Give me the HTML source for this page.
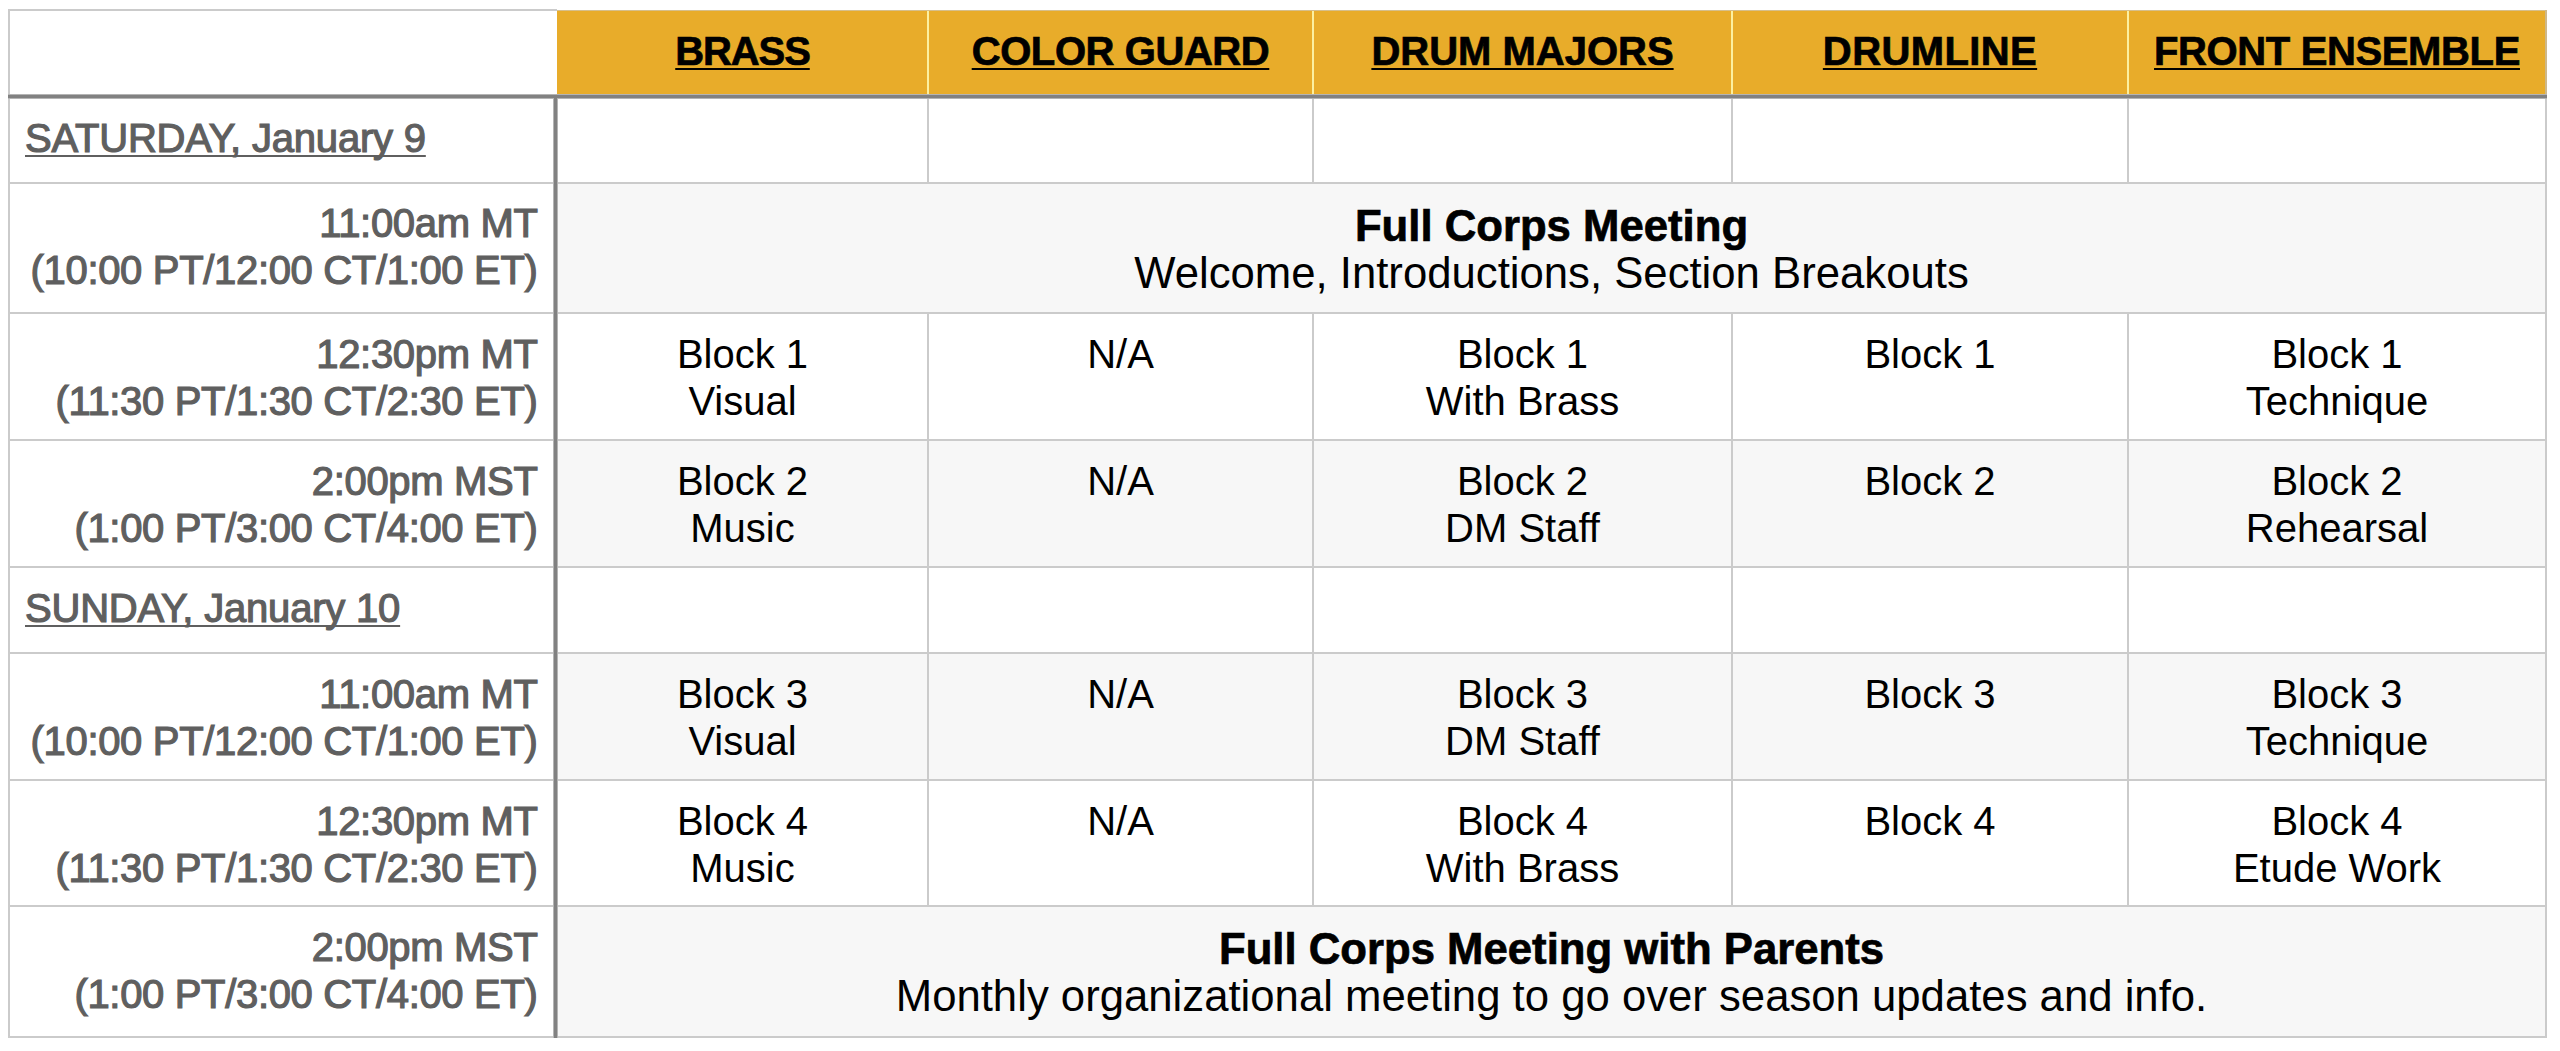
<!DOCTYPE html>
<html><head><meta charset="utf-8"><style>
html,body{margin:0;padding:0;background:#fff;}
body{width:2560px;height:1051px;position:relative;overflow:hidden;font-family:"Liberation Sans",sans-serif;}
div{position:absolute;}
.t{line-height:47px;white-space:nowrap;}
.g{-webkit-text-stroke:1.2px #5f5f5f;}
.tm{letter-spacing:-0.33px;}
b,.hb{-webkit-text-stroke:0.7px #000;}
</style></head><body>
<div style="left:557px;top:11px;width:1989px;height:84px;background:#e8ac2a"></div><div style="left:557px;top:183px;width:1989px;height:130px;background:#f7f7f7"></div><div style="left:557px;top:440px;width:1989px;height:127px;background:#f7f7f7"></div><div style="left:557px;top:653px;width:1989px;height:127px;background:#f7f7f7"></div><div style="left:557px;top:906px;width:1989px;height:131px;background:#f7f7f7"></div><div style="left:8px;top:9px;width:549px;height:2px;background:#cbcbcb"></div><div style="left:557px;top:10px;width:1990px;height:1px;background:#d6bf8c"></div><div style="left:8px;top:9px;width:2px;height:1029px;background:#cbcbcb"></div><div style="left:2545px;top:96px;width:2px;height:942px;background:#cbcbcb"></div><div style="left:2545px;top:10px;width:2px;height:85px;background:#cdb88a"></div><div style="left:8px;top:1036px;width:2539px;height:2px;background:#cbcbcb"></div><div style="left:8px;top:182px;width:2539px;height:2px;background:#cbcbcb"></div><div style="left:8px;top:312px;width:2539px;height:2px;background:#cbcbcb"></div><div style="left:8px;top:439px;width:2539px;height:2px;background:#cbcbcb"></div><div style="left:8px;top:566px;width:2539px;height:2px;background:#cbcbcb"></div><div style="left:8px;top:652px;width:2539px;height:2px;background:#cbcbcb"></div><div style="left:8px;top:779px;width:2539px;height:2px;background:#cbcbcb"></div><div style="left:8px;top:905px;width:2539px;height:2px;background:#cbcbcb"></div><div style="left:927px;top:96px;width:2px;height:87px;background:#cbcbcb"></div><div style="left:927px;top:313px;width:2px;height:127px;background:#cbcbcb"></div><div style="left:927px;top:440px;width:2px;height:127px;background:#cbcbcb"></div><div style="left:927px;top:567px;width:2px;height:86px;background:#cbcbcb"></div><div style="left:927px;top:653px;width:2px;height:127px;background:#cbcbcb"></div><div style="left:927px;top:780px;width:2px;height:126px;background:#cbcbcb"></div><div style="left:927px;top:11px;width:2px;height:84px;background:#fcf0a0"></div><div style="left:1312px;top:96px;width:2px;height:87px;background:#cbcbcb"></div><div style="left:1312px;top:313px;width:2px;height:127px;background:#cbcbcb"></div><div style="left:1312px;top:440px;width:2px;height:127px;background:#cbcbcb"></div><div style="left:1312px;top:567px;width:2px;height:86px;background:#cbcbcb"></div><div style="left:1312px;top:653px;width:2px;height:127px;background:#cbcbcb"></div><div style="left:1312px;top:780px;width:2px;height:126px;background:#cbcbcb"></div><div style="left:1312px;top:11px;width:2px;height:84px;background:#fcf0a0"></div><div style="left:1731px;top:96px;width:2px;height:87px;background:#cbcbcb"></div><div style="left:1731px;top:313px;width:2px;height:127px;background:#cbcbcb"></div><div style="left:1731px;top:440px;width:2px;height:127px;background:#cbcbcb"></div><div style="left:1731px;top:567px;width:2px;height:86px;background:#cbcbcb"></div><div style="left:1731px;top:653px;width:2px;height:127px;background:#cbcbcb"></div><div style="left:1731px;top:780px;width:2px;height:126px;background:#cbcbcb"></div><div style="left:1731px;top:11px;width:2px;height:84px;background:#fcf0a0"></div><div style="left:2127px;top:96px;width:2px;height:87px;background:#cbcbcb"></div><div style="left:2127px;top:313px;width:2px;height:127px;background:#cbcbcb"></div><div style="left:2127px;top:440px;width:2px;height:127px;background:#cbcbcb"></div><div style="left:2127px;top:567px;width:2px;height:86px;background:#cbcbcb"></div><div style="left:2127px;top:653px;width:2px;height:127px;background:#cbcbcb"></div><div style="left:2127px;top:780px;width:2px;height:126px;background:#cbcbcb"></div><div style="left:2127px;top:11px;width:2px;height:84px;background:#fcf0a0"></div><div style="left:8px;top:94px;width:2539px;height:5px;background:#b4b4b4"></div><div style="left:8px;top:95px;width:2539px;height:3px;background:#818181"></div><div style="left:553px;top:99px;width:5px;height:939px;background:#b4b4b4"></div><div style="left:554px;top:98px;width:3px;height:940px;background:#818181"></div>
<div class="t hb" style="left:557px;width:371px;top:28px;font-size:40px;font-weight:700;color:#000;text-align:center;text-decoration:underline;text-decoration-thickness:2px;text-underline-offset:3px;text-decoration-skip-ink:none;letter-spacing:-1.1px;">BRASS</div><div class="t hb" style="left:928px;width:385px;top:28px;font-size:40px;font-weight:700;color:#000;text-align:center;text-decoration:underline;text-decoration-thickness:2px;text-underline-offset:3px;text-decoration-skip-ink:none;letter-spacing:-0.42px;">COLOR GUARD</div><div class="t hb" style="left:1313px;width:419px;top:28px;font-size:40px;font-weight:700;color:#000;text-align:center;text-decoration:underline;text-decoration-thickness:2px;text-underline-offset:3px;text-decoration-skip-ink:none;letter-spacing:0px;">DRUM MAJORS</div><div class="t hb" style="left:1732px;width:396px;top:28px;font-size:40px;font-weight:700;color:#000;text-align:center;text-decoration:underline;text-decoration-thickness:2px;text-underline-offset:3px;text-decoration-skip-ink:none;letter-spacing:0.4px;">DRUMLINE</div><div class="t hb" style="left:2128px;width:418px;top:28px;font-size:40px;font-weight:700;color:#000;text-align:center;text-decoration:underline;text-decoration-thickness:2px;text-underline-offset:3px;text-decoration-skip-ink:none;letter-spacing:-0.37px;">FRONT ENSEMBLE</div><div class="t g" style="left:25px;width:529px;top:115px;font-size:40px;font-weight:400;color:#5f5f5f;text-align:left;text-decoration:underline;text-decoration-thickness:2px;text-underline-offset:3px;text-decoration-skip-ink:none;letter-spacing:-0.2px;">SATURDAY, January 9</div><div class="t g" style="left:25px;width:529px;top:585px;font-size:40px;font-weight:400;color:#5f5f5f;text-align:left;text-decoration:underline;text-decoration-thickness:2px;text-underline-offset:3px;text-decoration-skip-ink:none;letter-spacing:-0.2px;">SUNDAY, January 10</div><div class="t g tm" style="left:10px;width:527.5px;top:200px;font-size:40px;font-weight:400;color:#5f5f5f;text-align:right;">11:00am MT<br>(10:00 PT/12:00 CT/1:00 ET)</div><div class="t g tm" style="left:10px;width:527.5px;top:331px;font-size:40px;font-weight:400;color:#5f5f5f;text-align:right;">12:30pm MT<br>(11:30 PT/1:30 CT/2:30 ET)</div><div class="t g tm" style="left:10px;width:527.5px;top:458px;font-size:40px;font-weight:400;color:#5f5f5f;text-align:right;">2:00pm MST<br>(1:00 PT/3:00 CT/4:00 ET)</div><div class="t g tm" style="left:10px;width:527.5px;top:671px;font-size:40px;font-weight:400;color:#5f5f5f;text-align:right;">11:00am MT<br>(10:00 PT/12:00 CT/1:00 ET)</div><div class="t g tm" style="left:10px;width:527.5px;top:798px;font-size:40px;font-weight:400;color:#5f5f5f;text-align:right;">12:30pm MT<br>(11:30 PT/1:30 CT/2:30 ET)</div><div class="t g tm" style="left:10px;width:527.5px;top:924px;font-size:40px;font-weight:400;color:#5f5f5f;text-align:right;">2:00pm MST<br>(1:00 PT/3:00 CT/4:00 ET)</div><div class="t" style="left:557px;width:371px;top:331px;font-size:40px;font-weight:400;color:#000;text-align:center;">Block 1<br>Visual</div><div class="t" style="left:928px;width:385px;top:331px;font-size:40px;font-weight:400;color:#000;text-align:center;">N/A</div><div class="t" style="left:1313px;width:419px;top:331px;font-size:40px;font-weight:400;color:#000;text-align:center;">Block 1<br>With Brass</div><div class="t" style="left:1732px;width:396px;top:331px;font-size:40px;font-weight:400;color:#000;text-align:center;">Block 1</div><div class="t" style="left:2128px;width:418px;top:331px;font-size:40px;font-weight:400;color:#000;text-align:center;">Block 1<br>Technique</div><div class="t" style="left:557px;width:371px;top:458px;font-size:40px;font-weight:400;color:#000;text-align:center;">Block 2<br>Music</div><div class="t" style="left:928px;width:385px;top:458px;font-size:40px;font-weight:400;color:#000;text-align:center;">N/A</div><div class="t" style="left:1313px;width:419px;top:458px;font-size:40px;font-weight:400;color:#000;text-align:center;">Block 2<br>DM Staff</div><div class="t" style="left:1732px;width:396px;top:458px;font-size:40px;font-weight:400;color:#000;text-align:center;">Block 2</div><div class="t" style="left:2128px;width:418px;top:458px;font-size:40px;font-weight:400;color:#000;text-align:center;">Block 2<br>Rehearsal</div><div class="t" style="left:557px;width:371px;top:671px;font-size:40px;font-weight:400;color:#000;text-align:center;">Block 3<br>Visual</div><div class="t" style="left:928px;width:385px;top:671px;font-size:40px;font-weight:400;color:#000;text-align:center;">N/A</div><div class="t" style="left:1313px;width:419px;top:671px;font-size:40px;font-weight:400;color:#000;text-align:center;">Block 3<br>DM Staff</div><div class="t" style="left:1732px;width:396px;top:671px;font-size:40px;font-weight:400;color:#000;text-align:center;">Block 3</div><div class="t" style="left:2128px;width:418px;top:671px;font-size:40px;font-weight:400;color:#000;text-align:center;">Block 3<br>Technique</div><div class="t" style="left:557px;width:371px;top:798px;font-size:40px;font-weight:400;color:#000;text-align:center;">Block 4<br>Music</div><div class="t" style="left:928px;width:385px;top:798px;font-size:40px;font-weight:400;color:#000;text-align:center;">N/A</div><div class="t" style="left:1313px;width:419px;top:798px;font-size:40px;font-weight:400;color:#000;text-align:center;">Block 4<br>With Brass</div><div class="t" style="left:1732px;width:396px;top:798px;font-size:40px;font-weight:400;color:#000;text-align:center;">Block 4</div><div class="t" style="left:2128px;width:418px;top:798px;font-size:40px;font-weight:400;color:#000;text-align:center;">Block 4<br>Etude Work</div><div class="t" style="left:557px;width:1989px;top:202px;font-size:43.7px;font-weight:400;color:#000;text-align:center;"><b>Full Corps Meeting</b><br>Welcome, Introductions, Section Breakouts</div><div class="t" style="left:557px;width:1989px;top:925px;font-size:43.7px;font-weight:400;color:#000;text-align:center;"><b>Full Corps Meeting with Parents</b><br>Monthly organizational meeting to go over season updates and info.</div>
</body></html>
